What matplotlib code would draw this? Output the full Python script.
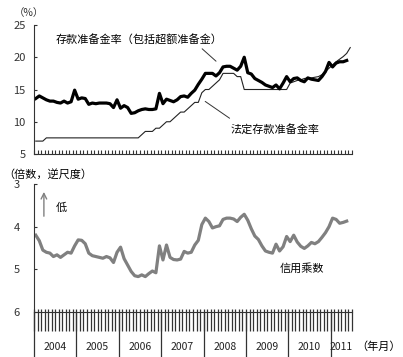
import numpy as np
import matplotlib
matplotlib.use('Agg')
import matplotlib.pyplot as plt

plt.rcParams['font.family'] = ['Noto Sans CJK SC', 'DejaVu Sans']

# monthly data, Jan 2004 onwards
reserve_total = [
    13.6, 14.0, 13.7, 13.4, 13.2, 13.2, 13.0, 12.9, 13.2, 12.9, 13.1, 14.9,
    13.5, 13.7, 13.6, 12.7, 12.9, 12.8, 12.9, 12.9, 12.9, 12.8, 12.2, 13.4,
    12.1, 12.5, 12.2, 11.3, 11.4, 11.7, 11.9, 12.0, 11.9, 11.9, 12.0, 14.4,
    12.8, 13.5, 13.3, 13.1, 13.4, 13.9, 14.0, 13.8, 14.4, 14.9, 15.8, 16.6,
    17.5, 17.5, 17.5, 17.1, 17.6, 18.5, 18.6, 18.6, 18.3, 18.0, 18.6, 20.0,
    17.6, 17.4, 16.7, 16.4, 16.1, 15.7, 15.5, 15.3, 15.7, 15.1, 16.0, 17.0,
    16.2, 16.7, 16.8, 16.4, 16.2, 16.8, 16.6, 16.5, 16.4, 17.0, 17.8, 19.2,
    18.5, 19.1, 19.3, 19.3, 19.5,
]
reserve_legal = (
    [7.0] * 3 + [7.5] * 27 + [8.0] + [8.5] * 3 + [9.0] * 2 + [9.5]
    + [10.0] * 2 + [10.5, 11.0] + [11.5] * 2 + [12.0, 12.5] + [13.0] * 2
    + [14.5] + [15.0] * 2 + [15.5, 16.0, 16.5] + [17.5] * 4 + [17.0] * 2
    + [15.0] * 13
    + [16.0, 16.2, 16.4, 16.5, 16.7, 16.8, 16.8, 16.9, 17.0, 17.3, 17.8, 18.3,
       18.8, 19.3, 19.7, 20.1, 20.6, 21.5]
)
credit_mult = [
    4.20, 4.33, 4.55, 4.60, 4.62, 4.70, 4.66, 4.72, 4.66, 4.60, 4.62, 4.45,
    4.31, 4.32, 4.40, 4.62, 4.68, 4.70, 4.72, 4.74, 4.70, 4.73, 4.84, 4.60,
    4.48, 4.75, 4.90, 5.05, 5.15, 5.17, 5.13, 5.17, 5.10, 5.04, 5.08, 4.45,
    4.78, 4.43, 4.72, 4.77, 4.78, 4.76, 4.58, 4.62, 4.60, 4.43, 4.32, 3.95,
    3.80, 3.88, 4.03, 4.00, 3.98, 3.83, 3.80, 3.80, 3.82, 3.88, 3.78, 3.71,
    3.85, 4.05, 4.22, 4.30, 4.45, 4.57, 4.60, 4.62, 4.41, 4.57, 4.47, 4.23,
    4.35, 4.20, 4.36, 4.46, 4.51, 4.45, 4.37, 4.40, 4.35, 4.25, 4.14, 4.00,
    3.80, 3.83, 3.92, 3.90, 3.87,
]
years = ['2004', '2005', '2006', '2007', '2008', '2009', '2010', '2011']
n_months = 90

W, H = 403, 357
fig = plt.figure(figsize=(W / 100, H / 100), dpi=100)

def px_axes(x0, y0, x1, y1):
    return fig.add_axes([x0 / W, 1 - y1 / H, (x1 - x0) / W, (y1 - y0) / H])

# ---- top panel: reserve ratios
ax1 = px_axes(34, 25, 352, 154)
x_tot = np.arange(len(reserve_total)) + 0.5
x_leg = np.arange(len(reserve_legal)) + 0.5
ax1.plot(x_leg, reserve_legal, color='#222222', lw=0.8)
ax1.plot(x_tot, reserve_total, color='black', lw=2.3, solid_joinstyle='round')
ax1.set_xlim(0, n_months)
ax1.set_ylim(5, 25)
ax1.set_yticks([5, 10, 15, 20, 25])
ax1.set_xticks(np.arange(0, n_months + 1))
ax1.tick_params(axis='x', direction='in', length=3, width=0.8, color='#333333',
                labelbottom=False)
ax1.tick_params(axis='y', direction='in', length=2.5, width=0.8, labelsize=8,
                pad=6, colors='#333333')
for s in ['top', 'right']:
    ax1.spines[s].set_visible(False)
for s in ['left', 'bottom']:
    ax1.spines[s].set_color('#333333')

ax1.text(29.6, 22.7, '存款准备金率（包括超额准备金）', fontsize=8,
         ha='center', va='center')
ax1.annotate('', xy=(52.1, 19.1), xytext=(47.0, 21.6),
             arrowprops=dict(arrowstyle='-', lw=0.7, color='#333333'))
ax1.text(68.2, 8.9, '法定存款准备金率', fontsize=8, ha='center', va='center')
ax1.annotate('', xy=(56.0, 10.3), xytext=(47.8, 13.4),
             arrowprops=dict(arrowstyle='-', lw=0.7, color='#333333'))
fig.text(14 / W, 1 - 13 / H, '（%）', fontsize=7.5, ha='left', va='center',
         color='#333333')

# ---- bottom panel: credit multiplier (inverted scale)
ax2 = px_axes(34, 184, 352, 312)
x_cm = np.arange(len(credit_mult)) + 0.5
ax2.plot(x_cm, credit_mult, color='#808080', lw=2.3, solid_joinstyle='round')
ax2.set_xlim(0, n_months)
ax2.set_ylim(6, 3)
ax2.set_yticks([3, 4, 5, 6])
ax2.set_xticks([])
ax2.tick_params(axis='y', direction='in', length=2.5, width=0.8, labelsize=8,
                pad=10, colors='#333333')
for s in ['top', 'right']:
    ax2.spines[s].set_visible(False)
for s in ['left', 'bottom']:
    ax2.spines[s].set_color('#333333')

trans = ax2.get_xaxis_transform()
ax2.vlines(np.arange(0, n_months + 1), 3 / 128, -19 / 128, transform=trans,
           color='#333333', lw=0.9, clip_on=False)
ax2.vlines(np.arange(0, n_months, 12), 0, -45 / 128, transform=trans,
           color='#333333', lw=0.9, clip_on=False)
for i, yr in enumerate(years):
    xc = min(12 * i + 6, (12 * i + n_months) / 2)
    ax2.text(xc, -35 / 128, yr, transform=trans, fontsize=7.5,
             ha='center', va='center', color='#222222')

ax2.text(75.9, 4.97, '信用乘数', fontsize=8, ha='center', va='center')
ax2.annotate('', xy=(2.8, 3.12), xytext=(2.8, 3.82),
             arrowprops=dict(arrowstyle='->', lw=1.0, color='#808080'))
ax2.text(7.6, 3.56, '低', fontsize=8, ha='center', va='center')
fig.text(3 / W, 1 - 174 / H, '（倍数，逆尺度）', fontsize=8, ha='left',
         va='center')
fig.text(356 / W, 1 - 347 / H, '（年月）', fontsize=8, ha='left', va='center')

fig.savefig('out.png', dpi=100)
